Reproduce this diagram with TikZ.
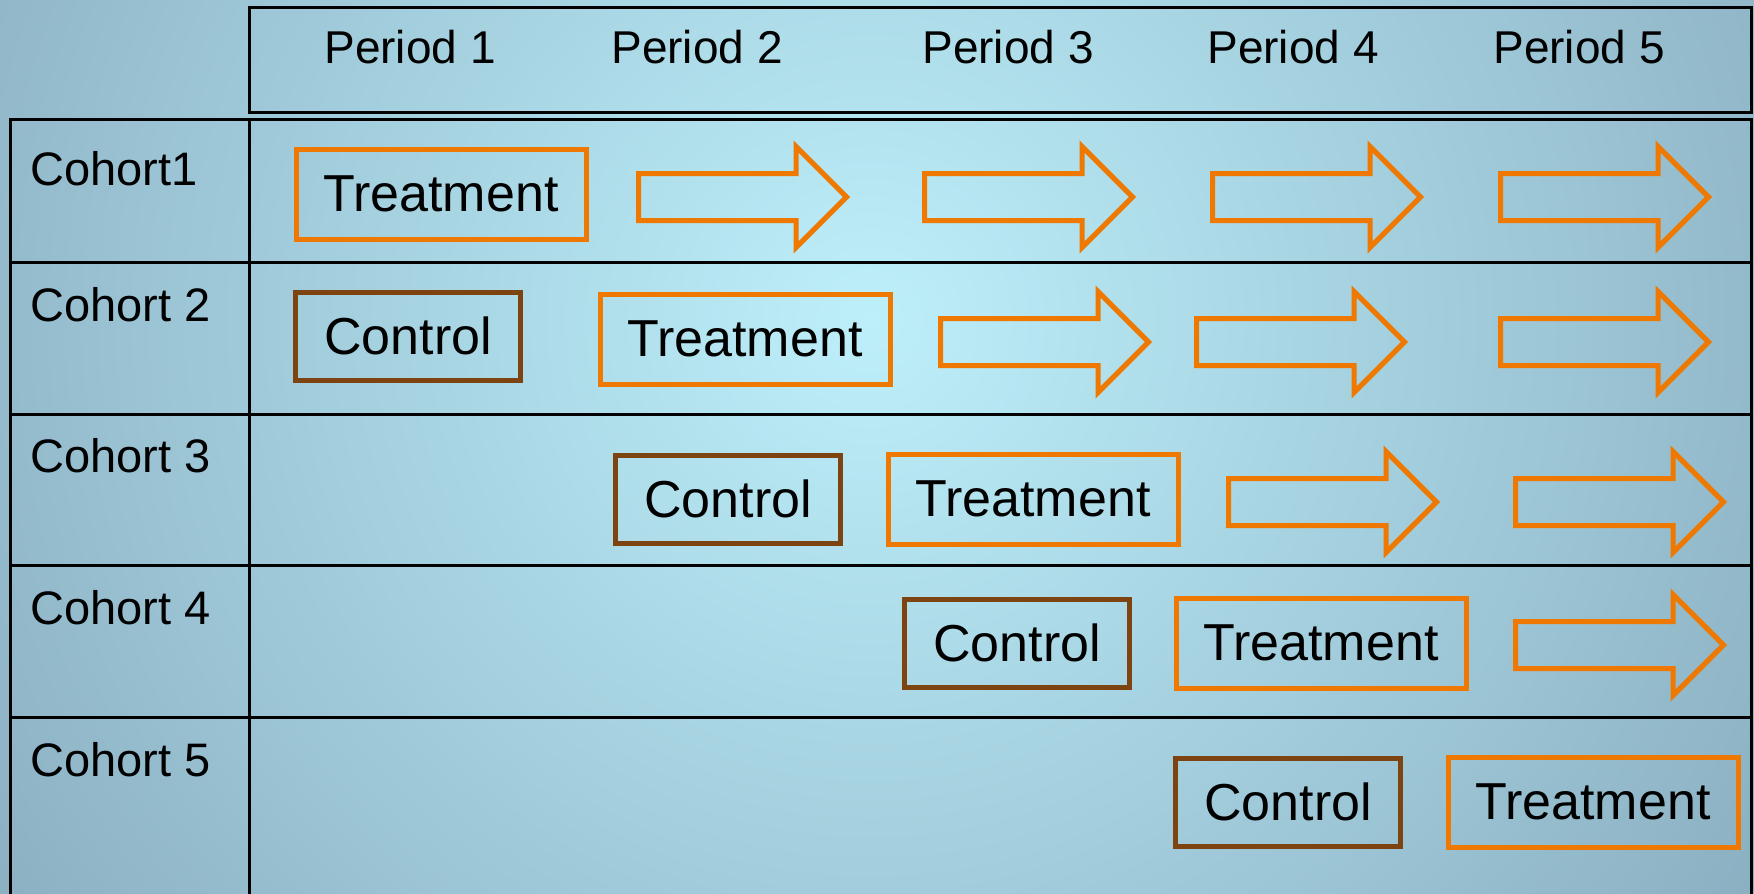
\documentclass[tikz,border=0pt]{standalone}
\usepackage{fontspec}
\setmainfont{Liberation Sans}
\usetikzlibrary{shapes.arrows,positioning}

\definecolor{trtorange}{HTML}{EE7800}
\definecolor{ctlbrown}{HTML}{7D4412}
\definecolor{glowin}{HTML}{BDEFFA}
\definecolor{glowout}{HTML}{7391A7}

\begin{document}
\begin{tikzpicture}[
  x=1pt, y=-1pt,
  grid/.style={line width=3pt, black},
  trt/.style={rectangle, draw=trtorange, line width=5pt, minimum width=290pt,
              minimum height=90pt, inner sep=0pt, font=\fontsize{52}{60}\selectfont},
  ctl/.style={trt, draw=ctlbrown, minimum width=225pt, minimum height=88pt},
  flow/.style={single arrow, draw=trtorange, line width=5pt, minimum height=208pt,
               minimum width=96pt, single arrow head extend=27pt,
               inner xsep=0pt, inner ysep=21pt, line join=miter, anchor=tail},
  cohortlbl/.style={anchor=base west, inner sep=0pt, font=\fontsize{47}{56}\selectfont},
  periodlbl/.style={anchor=base, inner sep=0pt, font=\fontsize{46}{55}\selectfont},
]

% Background
\useasboundingbox (0,0) rectangle (1754,894);
\begin{scope}
  \clip (0,0) rectangle (1754,894);
  \shade[inner color=glowin, outer color=glowout] (870,320) circle (1560);
\end{scope}

% Table lines
\draw[grid] (249,7) rectangle (1751,112);
\draw[grid] (10,894) |- (1751,119) -- (1751,894);
\draw[grid] (249,119) -- (249,894);
\foreach \yy in {262,414,565,717}
  \draw[grid] (10,\yy) -- (1751,\yy);

% Periods
\foreach \px/\k in {410/1,697/2,1008/3,1293/4,1579/5}
  \node[periodlbl] (per\k) at (\px,63) {Period \k};

% Cohorts
\node[cohortlbl] (coh1) at (30,185) {Cohort1};
\node[cohortlbl] (coh2) at (30,321) {Cohort 2};
\node[cohortlbl] (coh3) at (30,472) {Cohort 3};
\node[cohortlbl] (coh4) at (30,624) {Cohort 4};
\node[cohortlbl] (coh5) at (30,776) {Cohort 5};

% Cohort 1
\node[trt] (t1) at (441,194) {Treatment};
\node[flow] (f12) at (636,197) {};
\node[flow] (f13) at (922,197) {};
\node[flow] (f14) at (1210,197) {};
\node[flow] (f15) at (1498,197) {};

% Cohort 2
\node[ctl] (c2) at (408,336) {Control};
\node[trt] (t2) at (745,339) {Treatment};
\node[flow] (f23) at (938,342) {};
\node[flow] (f24) at (1194,342) {};
\node[flow] (f25) at (1498,342) {};

% Cohort 3
\node[ctl] (c3) at (728,499) {Control};
\node[trt] (t3) at (1033,499) {Treatment};
\node[flow] (f34) at (1226,502) {};
\node[flow] (f35) at (1513,502) {};

% Cohort 4
\node[ctl] (c4) at (1017,643) {Control};
\node[trt] (t4) at (1321,643) {Treatment};
\node[flow] (f45) at (1513,645) {};

% Cohort 5
\node[ctl] (c5) at (1288,802) {Control};
\node[trt] (t5) at (1593,802) {Treatment};

\end{tikzpicture}
\end{document}
